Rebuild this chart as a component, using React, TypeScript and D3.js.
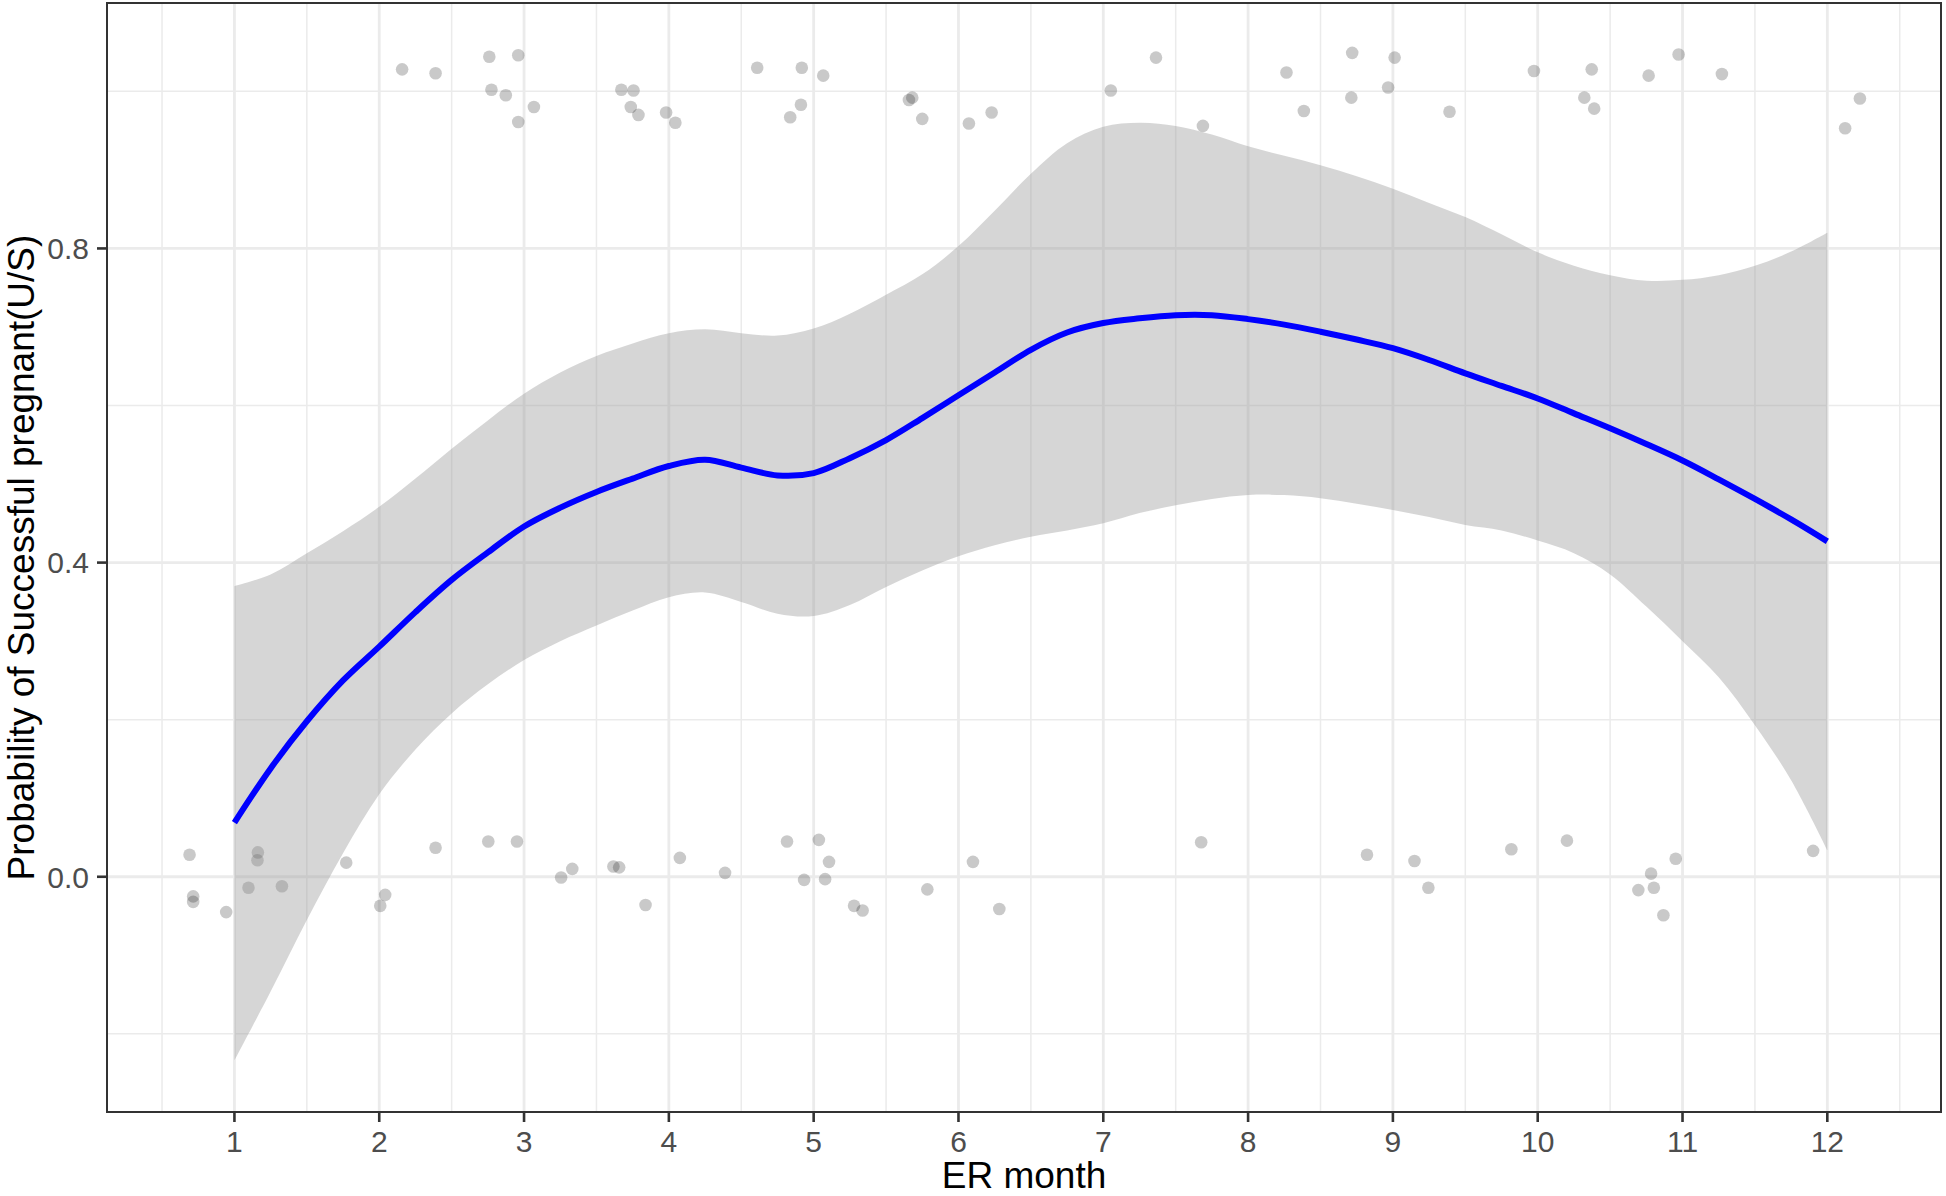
import * as d3 from "d3";
import React from "react";

// smooth fit (loess) sampled every 0.25 month
const fitX = [1, 1.25, 1.5, 1.75, 2, 2.25, 2.5, 2.75, 3, 3.25, 3.5, 3.75, 4, 4.25, 4.5, 4.75, 5, 5.25, 5.5, 5.75, 6, 6.25, 6.5, 6.75, 7, 7.25, 7.5, 7.75, 8, 8.25, 8.5, 8.75, 9, 9.25, 9.5, 9.75, 10, 10.25, 10.5, 10.75, 11, 11.25, 11.5, 11.75, 12];
const fitY = [0.069, 0.138, 0.198, 0.25, 0.293, 0.337, 0.378, 0.413, 0.446, 0.47, 0.49, 0.507, 0.523, 0.531, 0.521, 0.511, 0.514, 0.533, 0.556, 0.584, 0.613, 0.642, 0.671, 0.693, 0.705, 0.711, 0.715, 0.715, 0.71, 0.703, 0.694, 0.684, 0.673, 0.658, 0.641, 0.625, 0.609, 0.59, 0.571, 0.551, 0.53, 0.506, 0.481, 0.455, 0.427];
const upperY = [0.37, 0.385, 0.412, 0.44, 0.471, 0.507, 0.545, 0.581, 0.615, 0.642, 0.663, 0.679, 0.692, 0.697, 0.692, 0.689, 0.698, 0.717, 0.741, 0.767, 0.803, 0.848, 0.895, 0.934, 0.955, 0.96, 0.956, 0.945, 0.93, 0.918, 0.906, 0.892, 0.876, 0.858, 0.84, 0.818, 0.795, 0.778, 0.766, 0.759, 0.76, 0.766, 0.778, 0.796, 0.82];
const lowerY = [-0.234, -0.146, -0.055, 0.03, 0.105, 0.162, 0.208, 0.245, 0.276, 0.3, 0.32, 0.339, 0.356, 0.362, 0.35, 0.335, 0.332, 0.346, 0.369, 0.39, 0.408, 0.422, 0.433, 0.441, 0.45, 0.463, 0.473, 0.481, 0.486, 0.486, 0.482, 0.475, 0.467, 0.458, 0.448, 0.441, 0.428, 0.412, 0.385, 0.344, 0.3, 0.254, 0.193, 0.123, 0.034];

// jittered observations
const pointX = [
  2.158, 2.389, 2.76, 2.96, 2.775, 2.874, 3.068, 2.96, 3.672, 3.756, 3.737, 3.79, 3.981, 4.045,
  4.61, 4.918, 5.066, 4.912, 4.838, 5.658, 5.681, 5.75, 6.072, 6.229, 7.052, 7.364, 7.688, 8.265, 8.385,
  8.719, 8.713, 9.012, 8.967, 9.391, 9.974, 10.373, 10.322, 10.39, 10.766, 10.973, 11.272, 12.123, 12.225,
  0.69, 0.715, 0.715, 0.943, 1.162, 1.159, 1.097, 1.328, 1.772, 2.007, 2.041, 2.389, 2.753, 2.951,
  3.256, 3.333, 3.617, 3.657, 3.839, 4.076, 4.388, 4.816, 5.036, 5.106, 4.934, 5.079, 5.279, 5.338,
  5.785, 6.1, 6.282, 7.676, 8.821, 9.149, 9.245, 9.818, 10.202, 10.695, 10.783, 10.802, 10.868, 10.953, 11.902
];
const pointY = [
  1.028, 1.023, 1.044, 1.046, 1.002, 0.995, 0.98, 0.961, 1.002, 1.001, 0.98, 0.97, 0.973, 0.96,
  1.03, 1.03, 1.02, 0.983, 0.967, 0.989, 0.992, 0.965, 0.959, 0.973, 1.001, 1.043, 0.956, 1.024, 0.975,
  1.049, 0.992, 1.043, 1.005, 0.974, 1.026, 1.028, 0.992, 0.978, 1.02, 1.047, 1.022, 0.953, 0.991,
  0.028, -0.025, -0.032, -0.045, 0.031, 0.021, -0.014, -0.012, 0.018, -0.037, -0.023, 0.037, 0.045, 0.045,
  -0.001, 0.01, 0.013, 0.012, -0.036, 0.024, 0.005, 0.045, 0.047, 0.019, -0.004, -0.003, -0.037, -0.043,
  -0.016, 0.019, -0.041, 0.044, 0.028, 0.02, -0.014, 0.035, 0.046, -0.017, 0.004, -0.014, -0.049, 0.023, 0.033
];

const xTicks = [1, 2, 3, 4, 5, 6, 7, 8, 9, 10, 11, 12];
const xMinor = [0.5, 1.5, 2.5, 3.5, 4.5, 5.5, 6.5, 7.5, 8.5, 9.5, 10.5, 11.5, 12.5];
const yTicks = [0, 0.4, 0.8];
const yMinor = [-0.2, 0.2, 0.6, 1.0];

export default function App() {
  const width = 1946;
  const height = 1196;
  const left = 107, right = 1941, top = 3, bottom = 1112;

  const x = d3.scaleLinear().domain([0.12, 12.785]).range([left, right]);
  const y = d3.scaleLinear().domain([-0.2995, 1.1125]).range([bottom, top]);

  const fit = fitX.map((v, i) => ({ x: v, y: fitY[i], lo: lowerY[i], hi: upperY[i] }));

  const line = d3
    .line<any>()
    .x((d) => x(d.x))
    .y((d) => y(d.y))
    .curve(d3.curveCatmullRom);

  const area = d3
    .area<any>()
    .x((d) => x(d.x))
    .y0((d) => y(d.lo))
    .y1((d) => y(d.hi))
    .curve(d3.curveCatmullRom);

  const font = "'Liberation Sans', Arial, sans-serif";

  return (
    <svg
      width={width}
      height={height}
      style={{ position: "absolute", left: 0, top: 0, background: "#fff" }}
    >
      <defs>
        <clipPath id="panel">
          <rect x={left} y={top} width={right - left} height={bottom - top} />
        </clipPath>
      </defs>
      <rect x={0} y={0} width={width} height={height} fill="#fff" />

      {/* grid */}
      <g stroke="#ebebeb" clipPath="url(#panel)">
        {xMinor.map((t) => (
          <line key={"xm" + t} x1={x(t)} x2={x(t)} y1={top} y2={bottom} strokeWidth={1.5} />
        ))}
        {yMinor.map((t) => (
          <line key={"ym" + t} x1={left} x2={right} y1={y(t)} y2={y(t)} strokeWidth={1.5} />
        ))}
        {xTicks.map((t) => (
          <line key={"x" + t} x1={x(t)} x2={x(t)} y1={top} y2={bottom} strokeWidth={2.8} />
        ))}
        {yTicks.map((t) => (
          <line key={"y" + t} x1={left} x2={right} y1={y(t)} y2={y(t)} strokeWidth={2.8} />
        ))}
      </g>

      {/* jittered points */}
      <g fill="#000" fillOpacity={0.21}>
        {pointX.map((px, i) => (
          <circle key={i} cx={x(px)} cy={y(pointY[i])} r={6.3} />
        ))}
      </g>

      {/* confidence band and smooth */}
      <path d={area(fit) as string} fill="#999999" fillOpacity={0.4} />
      <path d={line(fit) as string} fill="none" stroke="#0000ff" strokeWidth={6} />

      {/* panel border */}
      <rect
        x={left}
        y={top}
        width={right - left}
        height={bottom - top}
        fill="none"
        stroke="#333333"
        strokeWidth={2}
      />

      {/* x axis */}
      <g>
        {xTicks.map((t) => (
          <g key={t}>
            <line x1={x(t)} x2={x(t)} y1={bottom} y2={bottom + 10} stroke="#333333" strokeWidth={2.6} />
            <text
              x={x(t)}
              y={1152}
              textAnchor="middle"
              fontFamily={font}
              fontSize={30}
              fill="#4d4d4d"
            >
              {t}
            </text>
          </g>
        ))}
      </g>

      {/* y axis */}
      <g>
        {yTicks.map((t) => (
          <g key={t}>
            <line x1={left - 10} x2={left} y1={y(t)} y2={y(t)} stroke="#333333" strokeWidth={2.6} />
            <text
              x={89}
              y={y(t)}
              dy="0.36em"
              textAnchor="end"
              fontFamily={font}
              fontSize={30}
              fill="#4d4d4d"
            >
              {t.toFixed(1)}
            </text>
          </g>
        ))}
      </g>

      <text
        x={(left + right) / 2}
        y={1188}
        textAnchor="middle"
        fontFamily={font}
        fontSize={37}
        fill="#000"
      >
        ER month
      </text>
      <text
        transform={`translate(34, ${(top + bottom) / 2}) rotate(-90)`}
        textAnchor="middle"
        fontFamily={font}
        fontSize={37}
        fill="#000"
      >
        Probability of Successful pregnant(U/S)
      </text>
    </svg>
  );
}
